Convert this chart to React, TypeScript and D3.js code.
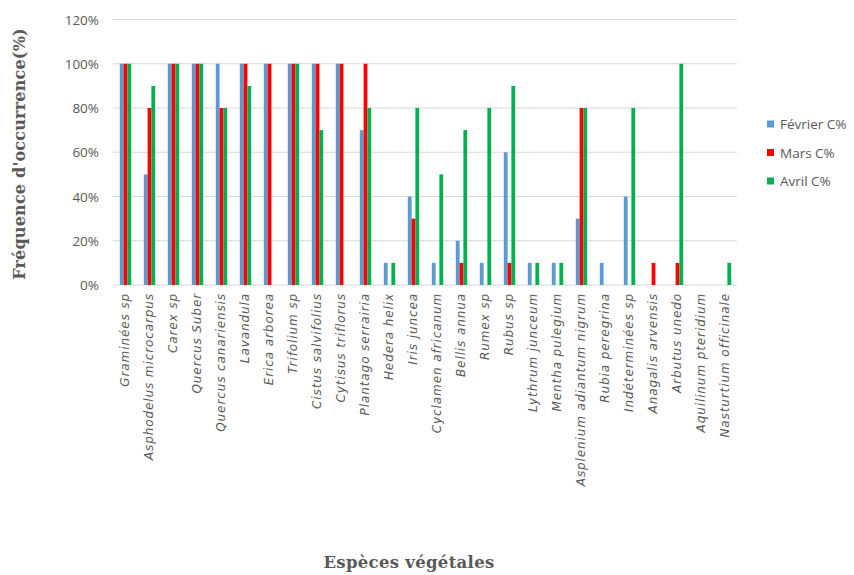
import React from 'react';
import * as d3 from 'd3';

const categories = [
  'Graminées sp', 'Asphodelus microcarpus', 'Carex sp', 'Quercus Suber', 'Quercus canariensis',
  'Lavandula', 'Erica arborea', 'Trifolium sp', 'Cistus salvifolius', 'Cytisus triflorus',
  'Plantago serrairia', 'Hedera helix', 'Iris juncea', 'Cyclamen africanum', 'Bellis annua',
  'Rumex sp', 'Rubus sp', 'Lythrum junceum', 'Mentha pulegium', 'Asplenium adiantum nigrum',
  'Rubia peregrina', 'Indéterminées sp', 'Anagalis arvensis', 'Arbutus unedo',
  'Aquilinum pteridium', 'Nasturtium officinale',
];

const fevrier = [100, 50, 100, 100, 100, 100, 100, 100, 100, 100, 70, 10, 40, 10, 20, 10, 60, 10, 10, 30, 10, 40, 0, 0, 0, 0];
const mars = [100, 80, 100, 100, 80, 100, 100, 100, 100, 100, 100, 0, 30, 0, 10, 0, 10, 0, 0, 80, 0, 0, 10, 10, 0, 0];
const avril = [100, 90, 100, 100, 80, 90, 0, 100, 70, 0, 80, 10, 80, 50, 70, 80, 90, 10, 10, 80, 0, 80, 0, 100, 0, 10];

const seriesNames = ['Février C%', 'Mars C%', 'Avril C%'];
const seriesColors = ['#5B9BD5', '#FF0000', '#00B050'];
const yTicks = [0, 20, 40, 60, 80, 100, 120];

const W = 854;
const H = 575;
const left = 113;
const right = 737;
const top = 19.5;
const bottom = 285;

const App: React.FC = () => {
  const series = [fevrier, mars, avril];

  const x = d3.scaleBand<string>().domain(categories).range([left, right]).padding(0);
  const x1 = d3.scaleBand<number>().domain([0, 1, 2]).range([6.8, 18.2]).padding(0);
  const y = d3.scaleLinear().domain([0, 120]).range([bottom, top]);

  return (
    <svg width={W} height={H} style={{ position: 'absolute', left: 0, top: 0, background: '#fff' }}>
      {/* grid */}
      {yTicks.map(t => (
        <line key={t} x1={left} x2={right} y1={y(t)} y2={y(t)} stroke="#d9d9d9" strokeWidth={1} />
      ))}
      {yTicks.map(t => (
        <text key={'l' + t} x={99} y={y(t) + 5} textAnchor="end" fontFamily="'Open Sans', sans-serif"
          fontSize={13.5} fill="#595959">{t}%</text>
      ))}

      {/* bars */}
      {series.map((vals, si) => (
        <g key={si} fill={seriesColors[si]}>
          {vals.map((v, i) => v > 0 && (
            <rect key={i}
              x={(x(categories[i]) ?? 0) + (x1(si) ?? 0)}
              y={y(v)}
              width={x1.bandwidth()}
              height={bottom - y(v)} />
          ))}
        </g>
      ))}

      {/* category labels */}
      {categories.map(c => {
        const cx = (x(c) ?? 0) + x.bandwidth() / 2 + 4;
        return (
          <text key={c} transform={`translate(${cx},293) rotate(-90)`} textAnchor="end"
            fontFamily="'DejaVu Sans', sans-serif" fontStyle="italic" fontSize={12}
            letterSpacing={0.9} fill="#595959">{c}</text>
        );
      })}

      {/* axis titles */}
      <text transform="translate(25,154) rotate(-90)" textAnchor="middle"
        fontFamily="'DejaVu Serif', serif" fontWeight="bold" fontSize={16}
        letterSpacing={0.2} fill="#595959">Fréquence  d'occurrence(%)</text>
      <text x={409} y={568} textAnchor="middle"
        fontFamily="'DejaVu Serif', serif" fontWeight="bold" fontSize={16.5}
        letterSpacing={0.3} fill="#595959">Espèces végétales</text>

      {/* legend */}
      {seriesNames.map((n, i) => (
        <g key={n} transform={`translate(767,${124 + i * 28.5})`}>
          <rect x={0} y={-3.5} width={7} height={7} fill={seriesColors[i]} />
          <text x={13} y={5} fontFamily="'Open Sans', sans-serif" fontSize={13.5} fill="#595959">{n}</text>
        </g>
      ))}
    </svg>
  );
};

export default App;
